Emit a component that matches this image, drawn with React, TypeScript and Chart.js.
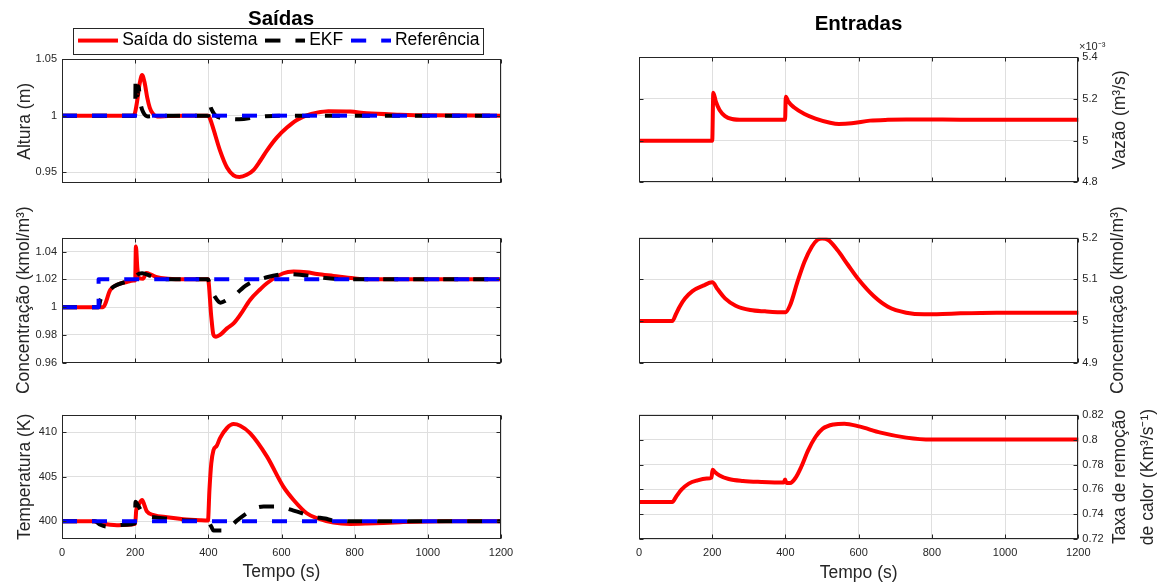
import React, { useEffect, useRef } from 'react';
import { Chart, registerables } from 'chart.js';

Chart.register(...registerables);

const FONT = '"Liberation Sans", Arial, Helvetica, sans-serif';
const AXIS_COLOR = '#262626';
const GRID_COLOR = '#dfdfdf';
const RED = '#ff0000';
const BLACK = '#000000';
const BLUE = '#0000ff';
const LABEL_SIZE = 17.5;
const TICK_SIZE = 11;
const TITLE_SIZE = 20.5;

const xTicks = [0, 200, 400, 600, 800, 1000, 1200];

// ---------- Saídas: Altura (m) ----------
const alturaTicks = [0.95, 1, 1.05];
const alturaSaidaT = [0, 196, 200, 205, 212, 219, 226, 233, 240, 248, 260, 290, 330, 400, 405, 414, 432, 451, 469, 485, 505, 524, 542, 560, 587, 615, 642, 669, 697, 728, 788, 833, 924, 1000, 1200];
const alturaSaida = [1, 1, 1.003, 1.012, 1.028, 1.036, 1.029, 1.016, 1.007, 1.002, 0.9993, 0.9996, 1, 1, 0.997, 0.988, 0.969, 0.954, 0.947, 0.9455, 0.9475, 0.952, 0.96, 0.969, 0.9805, 0.9894, 0.9962, 1.0003, 1.0027, 1.004, 1.0036, 1.0021, 1.0009, 1.0003, 1];
const alturaEkfT = [0, 200, 201, 206, 209, 214, 222, 235, 260, 400, 402, 408, 420, 450, 484, 540, 600, 1200];
const alturaEkf = [1, 1, 1.03, 1.018, 1.026, 1.012, 1.003, 0.9993, 1, 1, 1.011, 1.006, 1.0, 0.9975, 0.9968, 0.999, 1, 1];
const alturaRefT = [0, 1200];
const alturaRef = [1, 1];

// ---------- Saídas: Concentração (kmol/m3) ----------
const concTicks = [0.96, 0.98, 1, 1.02, 1.04];
const concSaidaT = [0, 112, 132, 150, 177, 196, 200, 202, 206, 210, 222, 230, 245, 260, 290, 330, 399, 408, 414, 421, 432, 451, 469, 487, 514, 542, 560, 605, 633, 669, 697, 742, 797, 833, 1200];
const concSaida = [1, 1, 1.0124, 1.016, 1.0181, 1.0191, 1.0195, 1.0436, 1.028, 1.021, 1.0205, 1.0245, 1.0232, 1.0215, 1.0205, 1.02, 1.02, 0.9932, 0.98, 0.9787, 0.98, 0.9847, 0.9883, 0.9944, 1.0052, 1.0129, 1.0172, 1.0244, 1.0256, 1.0251, 1.0239, 1.0225, 1.0208, 1.02, 1.02];
const concEkfT = [0, 100, 105, 123, 141, 177, 196, 205, 219, 242, 260, 310, 399, 405, 419, 433, 451, 469, 505, 560, 615, 651, 705, 751, 797, 1200];
const concEkf = [1, 1, 1.0052, 1.01, 1.0148, 1.0184, 1.02, 1.0232, 1.0244, 1.0225, 1.0208, 1.02, 1.02, 1.0148, 1.0071, 1.0032, 1.0052, 1.008, 1.016, 1.0215, 1.0239, 1.0234, 1.0215, 1.0203, 1.02, 1.02];
const concRefT = [0, 100, 100, 1200];
const concRef = [1, 1, 1.02, 1.02];

// ---------- Saídas: Temperatura (K) ----------
const tempTicks = [400, 405, 410];
const tempSaidaT = [0, 86, 105, 132, 150, 177, 200, 203, 209, 219, 225, 232, 251, 287, 332, 378, 399, 403, 408, 414, 423, 432, 451, 469, 487, 514, 560, 605, 633, 669, 697, 742, 788, 833, 924, 1050, 1200];
const tempSaida = [400, 400, 399.77, 399.6, 399.55, 399.6, 399.7, 401.28, 401.84, 402.4, 401.84, 401.1, 400.7, 400.45, 400.23, 400.11, 400.08, 403.5, 406.5, 408.0, 408.5, 409.36, 410.5, 410.94, 410.75, 409.92, 407.3, 403.9, 402.4, 400.9, 400.34, 399.85, 399.7, 399.74, 399.89, 400, 400];
const tempEkfT = [0, 90, 105, 123, 141, 177, 199, 201, 207, 223, 251, 287, 342, 399, 408, 414, 437, 460, 478, 505, 524, 551, 587, 633, 688, 719, 742, 788, 1200];
const tempEkf = [400, 400, 399.6, 399.4, 399.5, 399.6, 399.77, 402.2, 401.84, 400.8, 400.45, 400.3, 400.08, 400, 399.4, 398.95, 398.95, 399.4, 400.07, 400.9, 401.4, 401.65, 401.65, 401.2, 400.5, 400.3, 400.08, 400, 400];
const tempRefT = [0, 1200];
const tempRef = [400, 400];

// ---------- Entradas: Vazão (x10^-3 m3/s) ----------
const vazaoTicks = [4.8, 5, 5.2, 5.4];
const vazaoT = [0, 200, 203, 210, 220, 235, 254, 284, 399, 401, 408, 423, 452, 482, 522, 546, 581, 631, 680, 730, 829, 928, 1200];
const vazaoE3 = [5, 5, 5.23, 5.187, 5.147, 5.118, 5.104, 5.1, 5.1, 5.211, 5.187, 5.16, 5.128, 5.106, 5.086, 5.08, 5.083, 5.096, 5.1, 5.101, 5.101, 5.1, 5.1];

// ---------- Entradas: Concentração (kmol/m3) ----------
const concEntTicks = [4.9, 5, 5.1, 5.2];
const concEntT = [0, 91, 101, 111, 126, 146, 175, 200, 215, 235, 264, 304, 344, 400, 413, 433, 452, 472, 487, 500, 517, 542, 571, 601, 641, 680, 730, 779, 829, 878, 977, 1200];
const concEnt = [5, 5, 5.0168, 5.0344, 5.0544, 5.072, 5.0848, 5.0928, 5.076, 5.0544, 5.0368, 5.0264, 5.0232, 5.0208, 5.0384, 5.0944, 5.1424, 5.1784, 5.1944, 5.198, 5.1944, 5.1704, 5.1344, 5.0984, 5.06, 5.0344, 5.02, 5.016, 5.0168, 5.0184, 5.02, 5.02];

// ---------- Entradas: Taxa de remoção de calor ----------
const taxaTicks = [0.72, 0.74, 0.76, 0.78, 0.8, 0.82];
const taxaT = [0, 91, 101, 116, 136, 160, 185, 198, 201, 207, 220, 245, 284, 334, 395, 399, 403, 413, 428, 443, 462, 482, 502, 532, 561, 601, 660, 730, 799, 1200];
const taxa = [0.75, 0.75, 0.754, 0.7598, 0.7647, 0.7673, 0.7687, 0.7695, 0.7759, 0.774, 0.7713, 0.7684, 0.7668, 0.766, 0.7655, 0.7679, 0.7652, 0.7652, 0.7695, 0.778, 0.7914, 0.8021, 0.8088, 0.8122, 0.8128, 0.8106, 0.8056, 0.8016, 0.8, 0.8];

const LBL_SAIDA = 'Saída do sistema';
const LBL_EKF = 'EKF';
const LBL_REF = 'Referência';

type Series = { label: string; t: number[]; v: number[]; color: string; dash?: number[]; order: number; smooth: boolean };
type TextItem = { text: string; x: number; y: number; rot?: number; size?: number; bold?: boolean; color?: string; align?: CanvasTextAlign };
type Panel = {
  side: 'left' | 'right';
  top: number;
  bottom: number;
  yMin: number;
  yMax: number;
  yTicks: number[];
  series: Series[];
  showX: boolean;
  legend?: boolean;
  texts: TextItem[];
};

const LEFT_L = 62, LEFT_R = 501;
const RIGHT_L = 639, RIGHT_R = 1078.3;
const W = 1163, H = 583;
const LEFT_AXIS_W = 62;
const RIGHT_AXIS_W = 40;
const X_AXIS_H = 44;
const LEGEND_PAD = 13;
const LEGEND_H = LABEL_SIZE + LEGEND_PAD + 10;
const LEGEND_BOX_W = 30;
const LEGEND_LINE_W = 40;

const fmt = (v: number) => String(Math.round(v * 1e6) / 1e6);
const ROT = -Math.PI / 2;

const saidaSeries = (t1: number[], v1: number[], t2: number[], v2: number[], t3: number[], v3: number[]): Series[] => [
  { label: LBL_SAIDA, t: t1, v: v1, color: RED, order: 3, smooth: true },
  { label: LBL_EKF, t: t2, v: v2, color: BLACK, dash: [15, 15], order: 2, smooth: true },
  { label: LBL_REF, t: t3, v: v3, color: BLUE, dash: [15, 15], order: 1, smooth: false },
];

const panels: Panel[] = [
  {
    side: 'left', top: 59.3, bottom: 183.3, yMin: 0.94, yMax: 1.05, yTicks: alturaTicks,
    series: saidaSeries(alturaSaidaT, alturaSaida, alturaEkfT, alturaEkf, alturaRefT, alturaRef),
    showX: false, legend: true,
    texts: [
      { text: 'Saídas', x: 281, y: 19, size: TITLE_SIZE, bold: true, color: '#000' },
      { text: 'Altura (m)', x: 25, y: 121.3, rot: ROT },
    ],
  },
  {
    side: 'left', top: 237.7, bottom: 362.7, yMin: 0.96, yMax: 1.05, yTicks: concTicks,
    series: saidaSeries(concSaidaT, concSaida, concEkfT, concEkf, concRefT, concRef),
    showX: false,
    texts: [{ text: 'Concentração (kmol/m³)', x: 24, y: 300.2, rot: ROT }],
  },
  {
    side: 'left', top: 414.7, bottom: 539, yMin: 398, yMax: 412, yTicks: tempTicks,
    series: saidaSeries(tempSaidaT, tempSaida, tempEkfT, tempEkf, tempRefT, tempRef),
    showX: true,
    texts: [{ text: 'Temperatura (K)', x: 25, y: 476.9, rot: ROT }],
  },
  {
    side: 'right', top: 57.3, bottom: 182.3, yMin: 4.8, yMax: 5.4, yTicks: vazaoTicks,
    series: [{ label: 'Vazão', t: vazaoT, v: vazaoE3, color: RED, order: 1, smooth: true }],
    showX: false,
    texts: [
      { text: 'Entradas', x: 858.5, y: 24, size: TITLE_SIZE, bold: true, color: '#000' },
      { text: 'Vazão (m³/s)', x: 1120, y: 119.8, rot: ROT },
      { text: '×10⁻³', x: 1079, y: 47, size: 11, align: 'left' },
    ],
  },
  {
    side: 'right', top: 237.7, bottom: 362.7, yMin: 4.9, yMax: 5.2, yTicks: concEntTicks,
    series: [{ label: 'Concentração', t: concEntT, v: concEnt, color: RED, order: 1, smooth: true }],
    showX: false,
    texts: [{ text: 'Concentração (kmol/m³)', x: 1118, y: 300.2, rot: ROT }],
  },
  {
    side: 'right', top: 414.7, bottom: 539.3, yMin: 0.72, yMax: 0.82, yTicks: taxaTicks,
    series: [{ label: 'Taxa', t: taxaT, v: taxa, color: RED, order: 1, smooth: true }],
    showX: true,
    texts: [
      { text: 'Taxa de remoção', x: 1120, y: 477, rot: ROT },
      { text: 'de calor (Km³/s⁻¹)', x: 1148, y: 477, rot: ROT },
    ],
  },
];

function lineSample(color: string, dash?: number[]): HTMLCanvasElement {
  const c = document.createElement('canvas');
  c.width = LEGEND_LINE_W;
  c.height = 6;
  const ctx = c.getContext('2d')!;
  ctx.strokeStyle = color;
  ctx.lineWidth = 4;
  ctx.setLineDash(dash || []);
  ctx.beginPath();
  ctx.moveTo(0, 3);
  ctx.lineTo(LEGEND_LINE_W, 3);
  ctx.stroke();
  return c;
}

function textPlugin(items: TextItem[]) {
  return {
    id: 'extraText',
    afterDraw(chart: any) {
      const ctx = chart.ctx as CanvasRenderingContext2D;
      for (const it of items) {
        ctx.save();
        ctx.translate(it.x, it.y);
        if (it.rot) ctx.rotate(it.rot);
        ctx.font = `${it.bold ? 'bold ' : ''}${it.size ?? LABEL_SIZE}px ${FONT}`;
        ctx.fillStyle = it.color ?? AXIS_COLOR;
        ctx.textAlign = it.align ?? 'center';
        ctx.textBaseline = 'middle';
        ctx.fillText(it.text, 0, 0);
        ctx.restore();
      }
    },
  };
}

const framePlugin = {
  id: 'frame',
  afterDraw(chart: any) {
    const { ctx, chartArea: a, scales } = chart;
    const L = Math.round(a.left) + 0.5;
    const R = Math.round(a.right) - 0.5;
    const T = Math.round(a.top) + 0.5;
    const B = Math.round(a.bottom) - 0.5;
    ctx.save();
    ctx.strokeStyle = AXIS_COLOR;
    ctx.lineWidth = 1;
    ctx.beginPath();
    for (const tk of scales.y.ticks) {
      const y = Math.round(scales.y.getPixelForValue(tk.value)) + 0.5;
      ctx.moveTo(L, y); ctx.lineTo(L + 4, y);
      ctx.moveTo(R, y); ctx.lineTo(R - 4, y);
    }
    for (const tk of scales.x.ticks) {
      const x = Math.round(scales.x.getPixelForValue(tk.value)) + 0.5;
      ctx.moveTo(x, B); ctx.lineTo(x, B - 4);
      ctx.moveTo(x, T); ctx.lineTo(x, T + 4);
    }
    ctx.stroke();
    ctx.strokeRect(L, T, R - L, B - T);
    ctx.restore();
  },
};

const legendBoxPlugin = {
  id: 'legendBox',
  afterDraw(chart: any) {
    const lg = chart.legend;
    if (!lg || !lg.legendHitBoxes || !lg.legendHitBoxes.length) return;
    const hb = lg.legendHitBoxes;
    const l = Math.min(...hb.map((h: any) => h.left));
    const r = Math.max(...hb.map((h: any) => h.left + h.width));
    const t = Math.min(...hb.map((h: any) => h.top));
    const b = Math.max(...hb.map((h: any) => h.top + h.height));
    const ctx = chart.ctx;
    ctx.save();
    ctx.strokeStyle = AXIS_COLOR;
    ctx.lineWidth = 1;
    const x0 = Math.round(l - 10) + 0.5;
    const x1 = Math.round(r + 3) + 0.5;
    const y0 = Math.round(t - 4) + 0.5;
    const y1 = Math.round(b + 5) + 0.5;
    ctx.strokeRect(x0, y0, x1 - x0, y1 - y0);
    ctx.restore();
  },
};

function makeConfig(p: Panel): any {
  const isLeft = p.side === 'left';
  const xH = p.showX ? X_AXIS_H : 0;
  const padding = {
    left: isLeft ? LEFT_L - LEFT_AXIS_W : RIGHT_L,
    right: isLeft ? W - LEFT_R : W - RIGHT_R - RIGHT_AXIS_W,
    top: p.legend ? p.top - LEGEND_H : p.top,
    bottom: H - p.bottom - xH,
  };
  return {
    type: 'line',
    data: {
      datasets: p.series.map((s) => ({
        label: s.label,
        data: s.t.map((t, i) => ({ x: t, y: s.v[i] })),
        borderColor: s.color,
        backgroundColor: s.color,
        borderWidth: 4,
        borderDash: s.dash || [],
        borderCapStyle: s.dash ? 'butt' : 'round',
        borderJoinStyle: 'round',
        pointRadius: 0,
        pointHoverRadius: 0,
        pointStyle: lineSample(s.color, s.dash),
        tension: 0,
        cubicInterpolationMode: s.smooth ? 'monotone' : 'default',
        fill: false,
        order: s.order,
      })),
    },
    options: {
      responsive: false,
      maintainAspectRatio: false,
      animation: false,
      events: [],
      layout: { padding },
      scales: {
        x: {
          type: 'linear',
          min: 0,
          max: 1200,
          afterBuildTicks: (s: any) => { s.ticks = xTicks.map((v) => ({ value: v })); },
          afterFit: (s: any) => { s.height = xH; },
          grid: { color: GRID_COLOR, lineWidth: 1, drawTicks: false },
          border: { display: false },
          ticks: {
            display: p.showX,
            padding: 7,
            maxRotation: 0,
            autoSkip: false,
            color: AXIS_COLOR,
            font: { family: FONT, size: TICK_SIZE },
            callback: (v: number) => fmt(v),
          },
          title: {
            display: p.showX,
            text: 'Tempo (s)',
            color: AXIS_COLOR,
            font: { family: FONT, size: LABEL_SIZE, lineHeight: 1.2 },
            padding: { top: 0, bottom: 0 },
          },
        },
        y: {
          type: 'linear',
          position: p.side,
          min: p.yMin,
          max: p.yMax,
          afterBuildTicks: (s: any) => { s.ticks = p.yTicks.map((v) => ({ value: v })); },
          afterFit: (s: any) => { s.width = isLeft ? LEFT_AXIS_W : RIGHT_AXIS_W; },
          grid: { color: GRID_COLOR, lineWidth: 1, drawTicks: false },
          border: { display: false },
          ticks: {
            padding: isLeft ? 5 : 4,
            autoSkip: false,
            color: AXIS_COLOR,
            font: { family: FONT, size: TICK_SIZE },
            callback: (v: number) => fmt(v),
          },
          title: { display: false },
        },
      },
      plugins: {
        title: { display: false },
        tooltip: { enabled: false },
        legend: p.legend
          ? {
              display: true,
              position: 'top',
              fullSize: false,
              align: 'center',
              labels: {
                usePointStyle: true,
                pointStyleWidth: LEGEND_BOX_W,
                boxWidth: LEGEND_BOX_W,
                padding: LEGEND_PAD,
                color: '#000',
                font: { family: FONT, size: LABEL_SIZE },
                sort: (a: any, b: any) => a.datasetIndex - b.datasetIndex,
              },
            }
          : { display: false },
      },
    },
    plugins: [framePlugin, textPlugin(p.texts), ...(p.legend ? [legendBoxPlugin] : [])],
  };
}

function PanelCanvas({ panel }: { panel: Panel }) {
  const ref = useRef<HTMLCanvasElement | null>(null);
  useEffect(() => {
    if (!ref.current) return;
    const chart = new Chart(ref.current, makeConfig(panel));
    return () => chart.destroy();
  }, [panel]);
  return (
    <canvas
      ref={ref}
      width={W}
      height={H}
      style={{ position: 'absolute', left: 0, top: 0, width: W, height: H }}
    />
  );
}

export default function App() {
  return (
    <div style={{ position: 'absolute', left: 0, top: 0, width: W, height: H, background: '#ffffff', overflow: 'hidden' }}>
      {panels.map((p, i) => (
        <PanelCanvas key={i} panel={p} />
      ))}
    </div>
  );
}
